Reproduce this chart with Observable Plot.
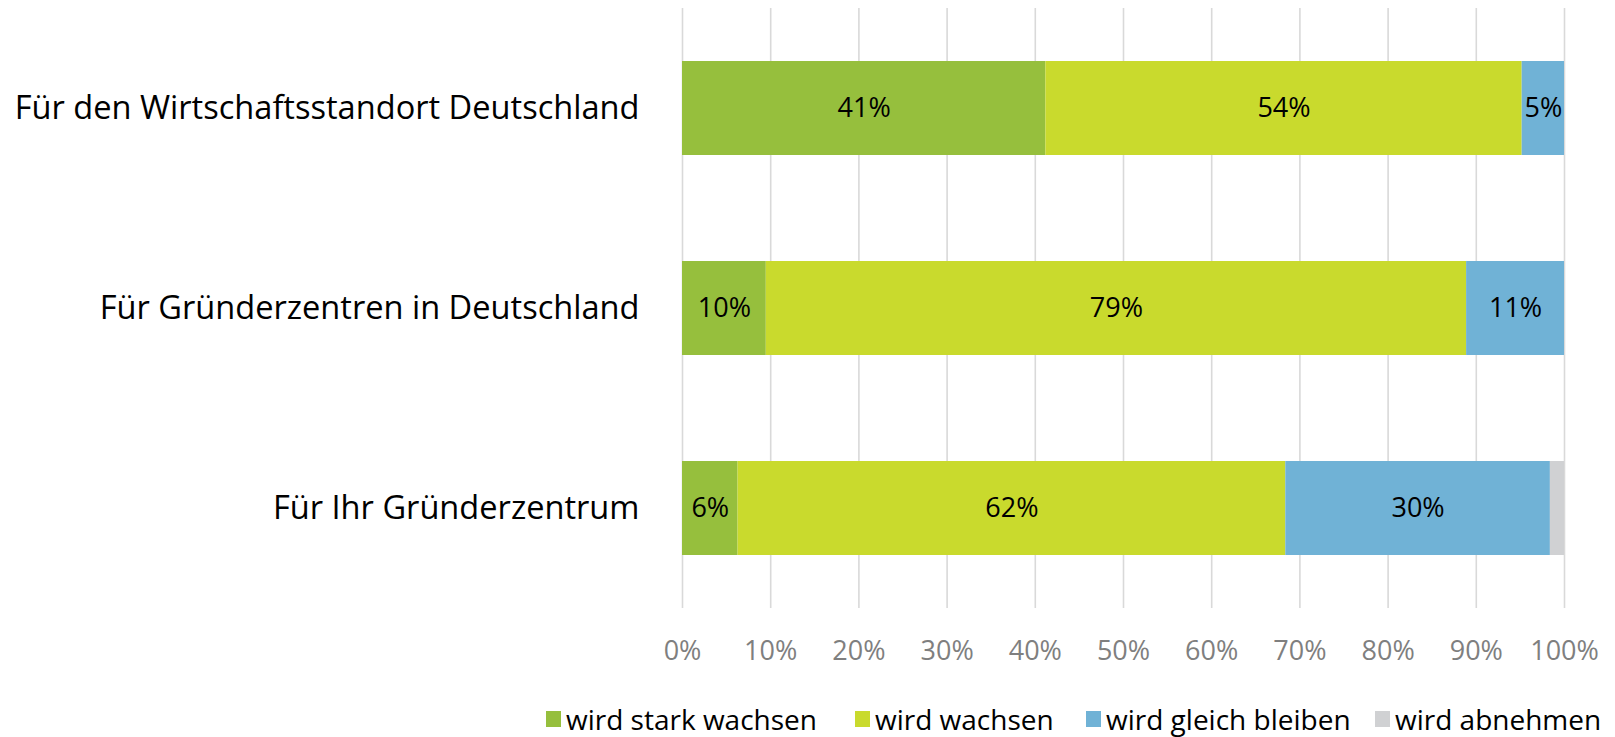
<!DOCTYPE html>
<html>
<head>
<meta charset="utf-8">
<script src="https://cdn.jsdelivr.net/npm/d3@7"></script>
<script src="https://cdn.jsdelivr.net/npm/@observablehq/plot@0.6"></script>
<style>
  html, body { margin: 0; padding: 0; background: #fff; }
  #wrap { position: relative; width: 1615px; height: 737px; font-family: "Open Sans", sans-serif; }
  #legend { position: absolute; left: 0; top: 700px; width: 1615px; height: 40px; font-size: 28px; color: #000; white-space: nowrap; }
  #legend .item { position: absolute; top: 0; display: flex; align-items: center; }
  #legend .sw { width: 15px; height: 16px; margin-right: 5px; }
</style>
</head>
<body>
<div id="wrap">
  <div id="chart"></div>
  <div id="legend"></div>
</div>
<script>
const categories = ["Für den Wirtschaftsstandort Deutschland", "Für Gründerzentren in Deutschland", "Für Ihr Gründerzentrum"];
const seriesNames = ["wird stark wachsen", "wird wachsen", "wird gleich bleiben", "wird abnehmen"];
const seriesColors = ["#96BF3D", "#C9DA2D", "#70B2D6", "#D0D1D3"];
const starkWachsen = [41.2, 9.5, 6.3];
const wachsen = [54.0, 79.4, 62.1];
const gleichBleiben = [4.8, 11.1, 30.0];
const abnehmen = [0, 0, 1.6];
const tickValues = [0, 10, 20, 30, 40, 50, 60, 70, 80, 90, 100];

const seriesValues = [starkWachsen, wachsen, gleichBleiben, abnehmen];
const data = [];
categories.forEach((cat, i) => {
  seriesNames.forEach((s, j) => {
    data.push({cat, series: s, value: seriesValues[j][i]});
  });
});

const font = "'Open Sans', sans-serif";
const chart = Plot.plot({
  width: 1615,
  height: 680,
  marginTop: 8,
  marginBottom: 72,
  marginLeft: 682,
  marginRight: 51,
  style: {fontFamily: font, background: "#fff"},
  x: {domain: [0, 100], label: null},
  y: {domain: categories, paddingInner: 0.53, paddingOuter: 0.265, label: null},
  color: {domain: seriesNames, range: seriesColors},
  marks: [
    Plot.gridX(tickValues, {stroke: "#D9D9D9", strokeOpacity: 1, strokeWidth: 1.6}),
    Plot.barX(data, Plot.stackX({x: "value", y: "cat", fill: "series", inset: 0})),
    Plot.text(data, Plot.stackX({x: "value", y: "cat", text: d => d.value >= 3 ? Math.round(d.value) + "%" : "", fontSize: 27, fill: "#000"})),
    Plot.axisX({ticks: tickValues, tickFormat: d => d + "%", tickSize: 0, tickPadding: 32, fontSize: 27, color: "#7F7F7F", label: null}),
    Plot.axisY({tickSize: 0, tickPadding: 43, fontSize: 32.6, color: "#000", label: null})
  ]
});
document.getElementById("chart").appendChild(chart);

// legend item left positions (layout)
const legendX = [546, 855, 1086, 1375];
const legend = document.getElementById("legend");
seriesNames.forEach((s, i) => {
  const item = document.createElement("div");
  item.className = "item";
  item.style.left = legendX[i] + "px";
  const sw = document.createElement("div");
  sw.className = "sw";
  sw.style.background = seriesColors[i];
  const t = document.createElement("span");
  t.textContent = s;
  item.appendChild(sw);
  item.appendChild(t);
  legend.appendChild(item);
});
</script>
</body>
</html>
